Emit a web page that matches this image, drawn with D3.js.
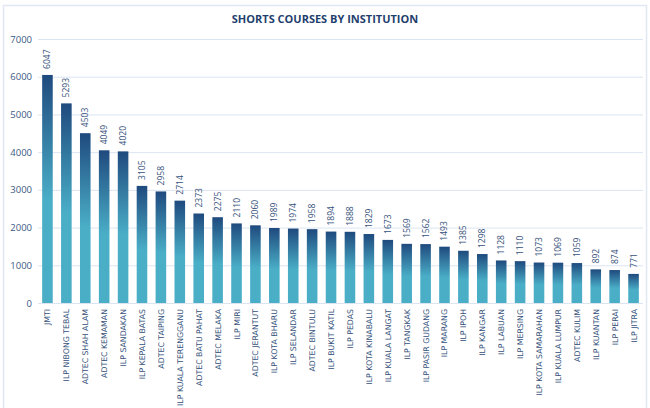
<!DOCTYPE html>
<html><head><meta charset="utf-8">
<script src="https://cdn.jsdelivr.net/npm/d3@7"></script>
<style>body{margin:0;background:#fff}svg{display:block}</style>
</head><body><svg id="c" width="650" height="408"></svg>
<script>
const categories = ["JMTI","ILP NIBONG TEBAL","ADTEC SHAH ALAM","ADTEC KEMAMAN","ILP SANDAKAN","ILP KEPALA BATAS","ADTEC TAIPING","ILP KUALA TERENGGANU","ADTEC BATU PAHAT","ADTEC MELAKA","ILP MIRI","ADTEC JERANTUT","ILP KOTA BHARU","ILP SELANDAR","ADTEC BINTULU","ILP BUKIT KATIL","ILP PEDAS","ILP KOTA KINABALU","ILP KUALA LANGAT","ILP TANGKAK","ILP PASIR GUDANG","ILP MARANG","ILP IPOH","ILP KANGAR","ILP LABUAN","ILP MERSING","ILP KOTA SAMARAHAN","ILP KUALA LUMPUR","ADTEC KULIM","ILP KUANTAN","ILP PERAI","ILP JITRA"];
const values = [6047,5293,4503,4049,4020,3105,2958,2714,2373,2275,2110,2060,1989,1974,1958,1894,1888,1829,1673,1569,1562,1493,1385,1298,1128,1110,1073,1069,1059,892,874,771];
const yTicks = [0,1000,2000,3000,4000,5000,6000,7000];
const title = "SHORTS COURSES BY INSTITUTION";

const svg = d3.select("#c");
const font = "'Open Sans', 'DejaVu Sans', sans-serif";
const wide = "'DejaVu Sans', sans-serif";
svg.append("rect").attr("x",3.5).attr("y",5.5).attr("width",643).attr("height",410)
  .attr("fill","#fff").attr("stroke","#dfe7f1").attr("stroke-width",1.5);

const m = {l:38, r:7, t:39, b:105};
const W = 650, H = 408;
const x = d3.scaleBand().domain(categories).range([m.l, W-m.r]).paddingInner(0.44).paddingOuter(0.22);
const y = d3.scaleLinear().domain([0,7000]).range([H-m.b, m.t]);

const defs = svg.append("defs");
const g = defs.append("linearGradient").attr("id","bg").attr("x1",0).attr("y1",0).attr("x2",0).attr("y2",1);
g.append("stop").attr("offset","0%").attr("stop-color","#1f4a7e");
g.append("stop").attr("offset","55%").attr("stop-color","#4aaec7");
g.append("stop").attr("offset","100%").attr("stop-color","#4aaec7");

svg.append("g").selectAll("line").data(yTicks).join("line")
  .attr("x1",m.l).attr("x2",W-m.r).attr("y1",d=>y(d)+0.5).attr("y2",d=>y(d)+0.5)
  .attr("stroke","#dbe5f1").attr("stroke-width",1);

const ya = svg.append("g").attr("transform",`translate(${m.l-6},0)`)
  .call(d3.axisLeft(y).tickValues(yTicks).tickSize(0).tickPadding(0).tickFormat(d3.format("d")));
ya.select(".domain").remove();
ya.selectAll("text").attr("fill","#3b5a84").style("font-family",font).style("font-size","9.5px");

svg.append("text").attr("x",W/2).attr("y",23).attr("text-anchor","middle")
  .attr("fill","#1f3f6e").style("font-family",font).style("font-weight","bold").style("font-size","11px")
  .text(title);

const data = categories.map((c,i)=>({c, v:values[i]}));
svg.append("g").selectAll("rect").data(data).join("rect")
  .attr("x",d=>x(d.c)).attr("width",x.bandwidth())
  .attr("y",d=>y(d.v)).attr("height",d=>y(0)-y(d.v)).attr("fill","url(#bg)");

svg.append("g").selectAll("text").data(data).join("text")
  .attr("transform",d=>`translate(${x(d.c)+x.bandwidth()/2+3},${y(d.v)-6}) rotate(-90)`)
  .attr("fill","#34507a").style("font-family",font).style("font-size","8.5px")
  .text(d=>d.v);

const xa = svg.append("g").attr("transform",`translate(0,${y(0)})`)
  .call(d3.axisBottom(x).tickSize(0).tickPadding(0));
xa.select(".domain").remove();
xa.selectAll("text").attr("transform","translate(3,6) rotate(-90)").attr("text-anchor","end")
  .attr("dy",0).attr("x",0).attr("y",0)
  .attr("fill","#34507a").style("font-family",wide).style("font-size","7.8px");
</script></body></html>
